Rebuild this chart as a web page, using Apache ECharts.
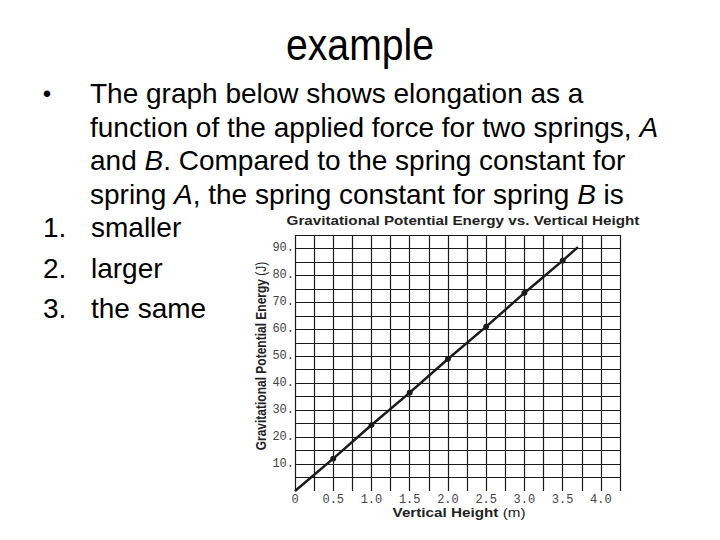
<!DOCTYPE html>
<html>
<head>
<meta charset="utf-8">
<script src="https://cdn.jsdelivr.net/npm/echarts@6/dist/echarts.min.js"></script>
<style>html,body{margin:0;padding:0;background:#fff;}#c{width:720px;height:540px;}</style>
</head>
<body>
<div id="c"></div>
<script>
// ---- data ----
var heights = [0, 0.5, 1.0, 1.5, 2.0, 2.5, 3.0, 3.5, 3.7];
var energies = [0, 12, 24.5, 36.5, 49, 61, 73.5, 85.5, 90.5];
var xTickValues = [0, 0.5, 1.0, 1.5, 2.0, 2.5, 3.0, 3.5, 4.0];
var xTickLabels = ['0', '0.5', '1.0', '1.5', '2.0', '2.5', '3.0', '3.5', '4.0'];
var yTickValues = [10, 20, 30, 40, 50, 60, 70, 80, 90];
var yTickLabels = ['10.', '20.', '30.', '40.', '50.', '60.', '70.', '80.', '90.'];
var chartTitle = 'Gravitational Potential Energy vs. Vertical Height';
var xName = 'Vertical Height';
var xUnit = '(m)';
var yName = 'Gravitational Potential Energy';
var yUnit = '(J)';
var slideTitle = 'example';
var bodyLines = [
  'The graph below shows elongation as a',
  'function of the applied force for two springs, {i|A}',
  'and {i|B}. Compared to the spring constant for',
  'spring {i|A}, the spring constant for spring {i|B} is'
];
var choices = ['smaller', 'larger', 'the same'];

// ---- build ----
var SANS = 'Liberation Sans, Arial, sans-serif';
var MONO = 'Liberation Mono, Courier New, monospace';
function findLabel(vals, labels, v) {
  for (var i = 0; i < vals.length; i++) {
    if (Math.abs(vals[i] - v) < 1e-6) return labels[i];
  }
  return '';
}
var seriesData = heights.map(function (h, i) {
  var item = { value: [h, energies[i]] };
  if (i === 0 || i === heights.length - 1) item.symbol = 'none';
  return item;
});

var graphics = [];
graphics.push({
  type: 'text', x: 360, y: 45, scaleX: 0.89,
  style: { text: slideTitle, fill: '#000', fontFamily: SANS, fontSize: 44, align: 'center', verticalAlign: 'middle' }
});
graphics.push({
  type: 'text', x: 47, y: 93,
  style: { text: '\u2022', fill: '#000', fontFamily: SANS, fontSize: 24, align: 'center', verticalAlign: 'middle' }
});
var bodyY = [93.5, 127, 160.5, 194];
bodyLines.forEach(function (t, i) {
  graphics.push({
    type: 'text', x: 90, y: bodyY[i],
    style: {
      text: t, fill: '#000', fontFamily: SANS, fontSize: 28, align: 'left', verticalAlign: 'middle',
      rich: { i: { fontFamily: SANS, fontSize: 28, fontStyle: 'italic', fill: '#000' } }
    }
  });
});
var choiceY = [227, 268, 308.5];
choices.forEach(function (t, i) {
  graphics.push({
    type: 'text', x: 43, y: choiceY[i],
    style: { text: (i + 1) + '.', fill: '#000', fontFamily: SANS, fontSize: 28, align: 'left', verticalAlign: 'middle' }
  });
  graphics.push({
    type: 'text', x: 91, y: choiceY[i],
    style: { text: t, fill: '#000', fontFamily: SANS, fontSize: 28, align: 'left', verticalAlign: 'middle' }
  });
});
graphics.push({
  type: 'text', x: 463, y: 221, scaleX: 1.27,
  style: { text: chartTitle, fill: '#222', fontFamily: SANS, fontSize: 12, fontWeight: 'bold', align: 'center', verticalAlign: 'middle' }
});
graphics.push({
  type: 'text', x: 459, y: 513, scaleX: 1.27,
  style: {
    text: '{b|' + xName + '} {n|' + xUnit + '}', fill: '#222', align: 'center', verticalAlign: 'middle',
    fontFamily: SANS, fontSize: 12,
    rich: {
      b: { fontFamily: SANS, fontSize: 12, fontWeight: 'bold', fill: '#222' },
      n: { fontFamily: SANS, fontSize: 12, fill: '#222' }
    }
  }
});
graphics.push({
  type: 'text', x: 261, y: 356, rotation: Math.PI / 2, scaleY: 1.2,
  style: {
    text: '{b|' + yName + '} {n|' + yUnit + '}', fill: '#222', align: 'center', verticalAlign: 'middle',
    fontFamily: SANS, fontSize: 12,
    rich: {
      b: { fontFamily: SANS, fontSize: 12, fontWeight: 'bold', fill: '#222' },
      n: { fontFamily: SANS, fontSize: 12, fill: '#222' }
    }
  }
});

var chart = echarts.init(document.getElementById('c'), null, { renderer: 'svg' });
chart.setOption({
  backgroundColor: '#fff',
  animation: false,
  graphic: graphics,
  grid: { left: 295, right: 100, top: 235, bottom: 49, containLabel: false },
  xAxis: {
    type: 'value', min: 0, max: 4.25, interval: 0.25,
    axisLine: { show: false },
    axisTick: { show: false },
    axisLabel: {
      margin: 3, color: '#444', fontFamily: MONO, fontSize: 12,
      showMinLabel: true, showMaxLabel: true,
      formatter: function (v) { return findLabel(xTickValues, xTickLabels, v); }
    },
    splitLine: { show: true, showMinLine: true, showMaxLine: true, lineStyle: { color: '#1a1a1a', width: 1.2 } }
  },
  yAxis: {
    type: 'value', min: 0, max: 95, interval: 5,
    axisLine: { show: false },
    axisTick: { show: false },
    axisLabel: {
      margin: 1, color: '#444', fontFamily: MONO, fontSize: 12,
      formatter: function (v) { return findLabel(yTickValues, yTickLabels, v); }
    },
    splitLine: { show: true, showMinLine: false, showMaxLine: true, lineStyle: { color: '#1a1a1a', width: 1.2 } }
  },
  series: [{
    type: 'line',
    data: seriesData,
    symbol: 'circle',
    symbolSize: 6,
    showAllSymbol: true,
    lineStyle: { color: '#1a1a1a', width: 2.5 },
    itemStyle: { color: '#1a1a1a' },
    z: 5
  }]
});
</script>
</body>
</html>
